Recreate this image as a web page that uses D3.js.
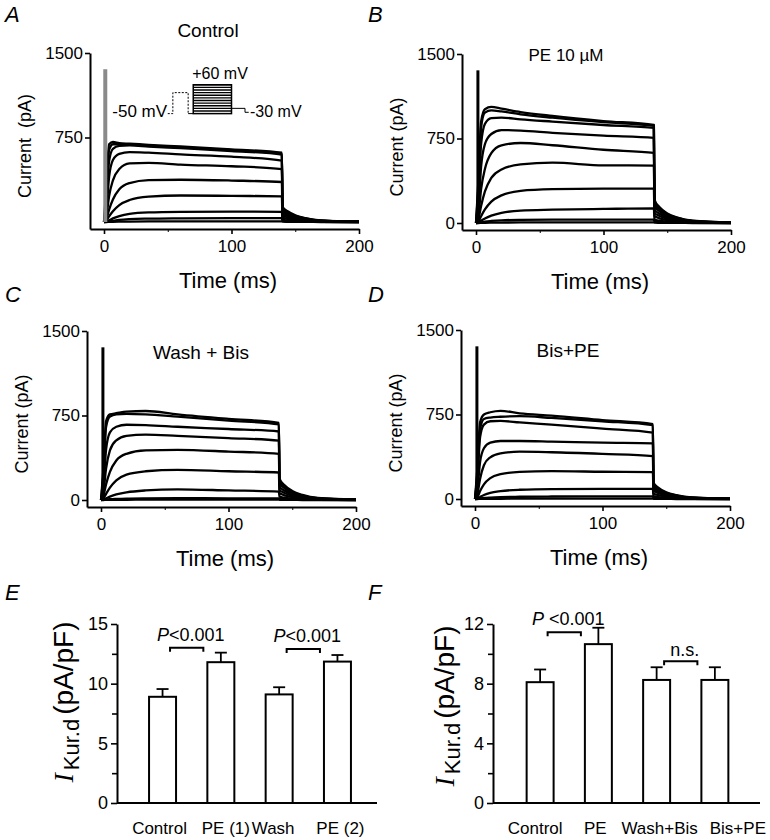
<!DOCTYPE html>
<html><head><meta charset="utf-8">
<script src="https://cdn.jsdelivr.net/npm/d3@7"></script>
<style>
body{margin:0;background:#fff}
text{font-family:"Liberation Sans",Arial,Helvetica,sans-serif;fill:#000}
</style>
</head><body>
<svg id="chart" width="770" height="840"></svg>
<script>
// ---------------- DATA ----------------
// shared sample times (ms) for current traces
const timesMs = [0, 2, 4, 7, 12, 20, 35, 60, 100, 139.5, 140, 144, 150, 158, 170, 200];

// Panel A: Control (pA)
const tracesControl = [
  [0, 350, 690, 710, 700, 695, 685, 670, 645, 615, 135, 95, 60, 35, 15, 3],
  [0, 280, 640, 690, 690, 688, 678, 662, 638, 605, 125, 88, 55, 32, 13, 3],
  [0, 200, 540, 650, 675, 680, 670, 655, 630, 598, 115, 80, 50, 28, 12, 2],
  [0, 120, 400, 550, 605, 620, 615, 600, 580, 545, 100, 70, 44, 25, 10, 2],
  [0, 60, 230, 370, 470, 520, 525, 510, 495, 470, 80, 56, 35, 20, 8, 1],
  [0, 30, 110, 200, 290, 345, 372, 375, 368, 355, 60, 42, 26, 15, 6, 1],
  [0, 15, 50, 95, 150, 195, 225, 235, 232, 228, 40, 28, 17, 10, 4, 0],
  [0, 5, 15, 32, 52, 72, 85, 90, 92, 90, 20, 14, 9, 5, 2, 0],
  [0, 2, 5, 10, 18, 25, 30, 33, 35, 35, 10, 7, 4, 2, 1, 0],
  [0, 0, 1, 2, 3, 4, 5, 5, 5, 5, 3, 2, 1, 1, 0, 0]
];
// Panel B: PE 10 µM
const tracesPE = [
  [0, 400, 900, 1010, 1030, 1015, 985, 950, 905, 870, 205, 140, 85, 48, 20, 4],
  [0, 350, 850, 980, 1000, 990, 965, 935, 895, 862, 190, 130, 80, 45, 18, 4],
  [0, 250, 700, 880, 930, 935, 920, 900, 870, 845, 175, 120, 72, 40, 16, 3],
  [0, 150, 500, 700, 790, 825, 820, 800, 775, 756, 150, 103, 62, 35, 14, 3],
  [0, 80, 300, 480, 620, 690, 710, 690, 650, 623, 120, 82, 50, 28, 11, 2],
  [0, 40, 150, 280, 400, 475, 520, 535, 512, 510, 90, 62, 38, 21, 8, 2],
  [0, 15, 60, 120, 190, 245, 285, 300, 305, 305, 60, 41, 25, 14, 6, 1],
  [0, 5, 20, 40, 65, 90, 110, 118, 125, 130, 30, 20, 12, 7, 3, 0],
  [0, 2, 6, 12, 18, 24, 28, 30, 30, 30, 12, 8, 5, 3, 1, 0],
  [0, 0, 1, 2, 3, 4, 5, 5, 5, 5, 3, 2, 1, 1, 0, 0]
];
// Panel C: Wash + Bis
const tracesWashBis = [
  [0, 300, 700, 760, 770, 785, 790, 760, 720, 685, 190, 130, 80, 45, 18, 4],
  [0, 250, 650, 740, 760, 765, 760, 740, 705, 672, 175, 120, 72, 40, 16, 3],
  [0, 150, 450, 600, 650, 668, 665, 650, 630, 608, 150, 103, 62, 35, 14, 3],
  [0, 80, 280, 440, 530, 570, 580, 570, 550, 527, 120, 82, 50, 28, 11, 2],
  [0, 40, 140, 250, 350, 410, 440, 445, 430, 410, 90, 62, 38, 21, 8, 2],
  [0, 15, 55, 110, 175, 225, 255, 268, 255, 244, 60, 41, 25, 14, 6, 1],
  [0, 5, 15, 30, 50, 68, 85, 95, 85, 74, 30, 20, 12, 7, 3, 0],
  [0, 2, 4, 7, 10, 13, 15, 16, 15, 15, 10, 7, 4, 2, 1, 0],
  [0, 0, 1, 1, 2, 2, 3, 3, 3, 3, 2, 1, 1, 0, 0, 0]
];
// Panel D: Bis + PE
const tracesBisPE = [
  [0, 300, 680, 750, 770, 783, 760, 740, 700, 664, 143, 98, 60, 34, 14, 3],
  [0, 250, 620, 710, 723, 730, 735, 720, 690, 655, 130, 90, 55, 31, 13, 3],
  [0, 200, 550, 660, 690, 693, 680, 660, 625, 589, 115, 80, 48, 27, 11, 2],
  [0, 100, 330, 450, 500, 515, 515, 510, 500, 494, 95, 65, 40, 22, 9, 2],
  [0, 50, 180, 300, 370, 405, 420, 415, 400, 381, 75, 52, 32, 18, 7, 1],
  [0, 20, 70, 130, 185, 220, 240, 247, 242, 238, 50, 34, 21, 12, 5, 1],
  [0, 6, 18, 35, 55, 70, 82, 88, 89, 89, 25, 17, 10, 6, 2, 0],
  [0, 2, 5, 9, 13, 17, 20, 22, 23, 24, 10, 7, 4, 2, 1, 0],
  [0, 0, 1, 1, 2, 2, 3, 3, 3, 3, 2, 1, 1, 0, 0, 0]
];
// capacitive transient (time ms, peak pA) per panel
const spikeTimeMs = [1, 1.5, 1.5, 1.5];
const spikePeakPA = [1355, 1355, 1355, 1355];

const traceTitles = ["Control", "PE 10 \u00B5M", "Wash + Bis", "Bis+PE"];
const panelLetters = ["A", "B", "C", "D", "E", "F"];
const yTicksA = [750, 1500];
const yTicksOther = [0, 750, 1500];
const xTicksMajor = [0, 100, 200];
const xTicksMinor = [50, 150];

// Voltage protocol inset (panel A), steps in mV
const protocolSteps = [-40, -30, -20, -10, 0, 10, 20, 30, 40, 50, 60];
const protocolLabels = ["-50 mV", "+60 mV", "-30 mV"];

// Panel E
const catsE = ["Control", "PE (1)", "Wash", "PE (2)"];
const meansE = [8.9, 11.8, 9.1, 11.85];
const errsE = [0.65, 0.8, 0.6, 0.55];
const yTicksE = [0, 5, 10, 15];
const yMinorE = [2.5, 7.5, 12.5];
const bracketsE = [["Control", "PE (1)", 13.0, "P<0.001"], ["Wash", "PE (2)", 12.9, "P<0.001"]];

// Panel F
const catsF = ["Control", "PE", "Wash+Bis", "Bis+PE"];
const meansF = [8.1, 10.65, 8.25, 8.25];
const errsF = [0.85, 1.1, 0.85, 0.85];
const yTicksF = [0, 4, 8, 12];
const yMinorF = [2, 6, 10];
const bracketsF = [["Control", "PE", 11.45, "P <0.001"], ["Wash+Bis", "Bis+PE", 9.5, "n.s."]];

// ---------------- DRAW ----------------
const svg = d3.select("#chart");

// panel letters
const letterPos = [[5, 22], [368, 22], [5, 302], [368, 302], [5, 600], [368, 600]];
panelLetters.forEach((L, i) => {
  svg.append("text").attr("x", letterPos[i][0]).attr("y", letterPos[i][1])
    .attr("font-size", 22).attr("font-style", "italic").text(L);
});

const traceSets = [tracesControl, tracesPE, tracesWashBis, tracesBisPE];
const traceLayout = [
  {x0: 104, y0: 222, title: [208, 37, 19], yTicks: yTicksA, spikeColor: "#8a8a8a", spikeW: 4},
  {x0: 476, y0: 223, title: [566, 61, 17], yTicks: yTicksOther, spikeColor: "#000", spikeW: 3},
  {x0: 101, y0: 500, title: [201, 359, 19], yTicks: yTicksOther, spikeColor: "#000", spikeW: 3},
  {x0: 475, y0: 499, title: [568, 357, 19], yTicks: yTicksOther, spikeColor: "#000", spikeW: 3}
];
const W = 255, H = 169, axOffX = 14, axOffY = 7;

const scalesA = {};
traceSets.forEach((traces, p) => {
  const L = traceLayout[p];
  const x = d3.scaleLinear().domain([0, 200]).range([L.x0, L.x0 + W]);
  const y = d3.scaleLinear().domain([0, 1500]).range([L.y0, L.y0 - H]);
  if (p === 0) { scalesA.x = x; scalesA.y = y; }
  const g = svg.append("g");

  // axes
  const yAx = y.copy().domain([y.invert(L.y0 + axOffY), 1500]).range([L.y0 + axOffY, L.y0 - H]);
  const ya = g.append("g").attr("transform", `translate(${L.x0 - axOffX},0)`)
    .call(d3.axisLeft(yAx).tickValues(L.yTicks).tickSize(5).tickSizeOuter(0).tickPadding(2).tickFormat(d3.format("d")));
  const xAx = x.copy().domain([x.invert(L.x0 - axOffX), 200]).range([L.x0 - axOffX, L.x0 + W]);
  const xa = g.append("g").attr("transform", `translate(0,${L.y0 + axOffY})`)
    .call(d3.axisBottom(xAx).tickValues(xTicksMajor).tickSize(5).tickSizeOuter(0).tickPadding(6).tickFormat(d3.format("d")));
  g.append("g").attr("transform", `translate(0,${L.y0 + axOffY})`)
    .call(d3.axisBottom(xAx).tickValues(xTicksMinor).tickSize(3).tickSizeOuter(0).tickFormat(""))
    .select(".domain").remove();
  [ya, xa].forEach(a => {
    a.selectAll("path.domain").attr("stroke-width", 2);
    a.selectAll(".tick line").attr("stroke-width", 1.6);
    a.selectAll("text").attr("font-size", 17).attr("font-family", "Liberation Sans, Arial, sans-serif").attr("fill", "#000");
  });
  g.selectAll(".tick line").attr("stroke", "#000");

  // traces
  const line = d3.line().x(d => x(d[0])).y(d => y(d[1])).curve(d3.curveMonotoneX);
  g.append("g").selectAll("path").data(traces).join("path")
    .attr("d", tr => line(timesMs.map((t, i) => [t, tr[i]])))
    .attr("fill", "none").attr("stroke", "#000").attr("stroke-width", 2.3).attr("stroke-linejoin", "round");

  // capacitive spike
  g.append("line")
    .attr("x1", x(spikeTimeMs[p])).attr("x2", x(spikeTimeMs[p]))
    .attr("y1", y(0)).attr("y2", y(spikePeakPA[p]))
    .attr("stroke", L.spikeColor).attr("stroke-width", L.spikeW);

  // labels
  g.append("text").attr("x", L.title[0]).attr("y", L.title[1]).attr("text-anchor", "middle")
    .attr("font-size", L.title[2]).text(traceTitles[p]);
  g.append("text").attr("transform", `translate(${L.x0 - 73},${L.y0 - 76}) rotate(-90)`)
    .attr("text-anchor", "middle").attr("font-size", 18).attr("xml:space", "preserve")
    .text(p === 0 ? "Current  (pA)" : "Current (pA)");
  g.append("text").attr("x", L.x0 + 124).attr("y", L.y0 + 66).attr("text-anchor", "middle")
    .attr("font-size", 22).text("Time (ms)");
});

// ---- voltage protocol inset in panel A ----
{
  const x = scalesA.x, y = scalesA.y;
  const v = d3.scaleLinear().domain([-50, 60]).range([y(962), y(1218)]);
  const gi = svg.append("g").attr("stroke", "#000").attr("fill", "none");
  const tx = [50, 54, 66, 70, 100, 110.6, 113.5];
  // holding + dashed prepulse
  gi.append("path").attr("stroke-dasharray", "2,1.5").attr("stroke-width", 1)
    .attr("d", d3.line()([[x(tx[0]), v(-50)], [x(tx[1]), v(-50)], [x(tx[1]), v(30)], [x(tx[2]), v(30)], [x(tx[2]), v(-50)]]));
  gi.append("path").attr("stroke-width", 1)
    .attr("d", d3.line()([[x(tx[2]), v(-50)], [x(tx[3]), v(-50)]]));
  // step box
  gi.append("rect").attr("x", x(tx[3])).attr("y", v(60)).attr("width", x(tx[4]) - x(tx[3]))
    .attr("height", v(-50) - v(60)).attr("stroke-width", 1.5);
  gi.selectAll("line.step").data(protocolSteps).join("line").attr("class", "step")
    .attr("x1", x(tx[3])).attr("x2", x(tx[4])).attr("y1", d => v(d)).attr("y2", d => v(d))
    .attr("stroke-width", 1.4);
  // tail to -30 then back to -50
  gi.append("path").attr("stroke-width", 1)
    .attr("d", d3.line()([[x(tx[4]), v(-30)], [x(tx[5]), v(-30)], [x(tx[5]), v(-45)], [x(tx[6]), v(-45)]]));
  svg.append("text").attr("x", x(49.5)).attr("y", y(935)).attr("text-anchor", "end").attr("font-size", 17).text(protocolLabels[0]);
  svg.append("text").attr("x", x(91)).attr("y", y(1271)).attr("text-anchor", "middle").attr("font-size", 16).text(protocolLabels[1]);
  svg.append("text").attr("x", x(114.5)).attr("y", y(935)).attr("text-anchor", "start").attr("font-size", 16).text(protocolLabels[2]);
}

// ---------------- BAR PANELS ----------------
function barPanel(cfg) {
  const {cats, means, errs, yMax, yTicks, yMinor, brackets, axisX, axisEnd, bandRange, labelCx} = cfg;
  const y = d3.scaleLinear().domain([0, yMax]).range([803, 624]);
  const x = d3.scaleBand().domain(cats).range(bandRange).paddingInner(0.537).paddingOuter(0.2685);
  const g = svg.append("g");
  // y axis
  const ya = g.append("g").attr("transform", `translate(${axisX},0)`)
    .call(d3.axisLeft(y).tickValues(yTicks).tickSize(6).tickSizeOuter(0).tickPadding(3).tickFormat(d3.format("d")));
  g.append("g").attr("transform", `translate(${axisX},0)`)
    .call(d3.axisLeft(y).tickValues(yMinor).tickSize(5).tickFormat("")).select(".domain").remove();
  ya.selectAll("path.domain").attr("stroke-width", 2);
  g.selectAll(".tick line").attr("stroke", "#000").attr("stroke-width", 1.6);
  ya.selectAll("text").attr("font-size", 18).attr("font-family", "Liberation Sans, Arial, sans-serif").attr("fill", "#000");
  // baseline
  g.append("line").attr("x1", axisX).attr("x2", axisEnd).attr("y1", y(0)).attr("y2", y(0))
    .attr("stroke", "#000").attr("stroke-width", 2);
  // error bars
  const cap = 12;
  cats.forEach((c, i) => {
    const cx = x(c) + x.bandwidth() / 2;
    g.append("line").attr("x1", cx).attr("x2", cx).attr("y1", y(means[i])).attr("y2", y(means[i] + errs[i]))
      .attr("stroke", "#000").attr("stroke-width", 1.8);
    g.append("line").attr("x1", cx - cap / 2).attr("x2", cx + cap / 2).attr("y1", y(means[i] + errs[i])).attr("y2", y(means[i] + errs[i]))
      .attr("stroke", "#000").attr("stroke-width", 1.8);
  });
  // bars
  g.selectAll("rect.bar").data(cats).join("rect").attr("class", "bar")
    .attr("x", c => x(c)).attr("width", x.bandwidth())
    .attr("y", (c, i) => y(means[i])).attr("height", (c, i) => y(0) - y(means[i]))
    .attr("fill", "#fff").attr("stroke", "#000").attr("stroke-width", 2);
  // category labels
  g.selectAll("text.cat").data(cats).join("text").attr("class", "cat")
    .attr("x", (c, i) => x(c) + x.bandwidth() / 2 + labelCx[i]).attr("y", 834)
    .attr("text-anchor", "middle").attr("font-size", 17).text(c => c);
  // brackets
  brackets.forEach(b => {
    const x1 = x(b[0]) + x.bandwidth() - 6, x2 = x(b[1]) - 4, yy = y(b[2]);
    g.append("path").attr("d", `M${x1},${yy + 4}V${yy}H${x2}V${yy + 4}`)
      .attr("fill", "none").attr("stroke", "#000").attr("stroke-width", 2);
    const t = g.append("text").attr("x", (x1 + x2) / 2 + 4).attr("y", yy - (b[3] === "n.s." ? 5 : 7))
      .attr("text-anchor", "middle").attr("font-size", 18);
    if (b[3].startsWith("P")) {
      t.append("tspan").attr("font-style", "italic").text("P");
      t.append("tspan").text(b[3].slice(1));
    } else t.text(b[3]);
  });
  // y label
  const lab = g.append("text").attr("transform", `translate(${cfg.ylabX},${cfg.ylabY}) rotate(-90)`)
    .attr("text-anchor", "middle");
  lab.append("tspan").attr("font-family", "Liberation Serif, Times New Roman, serif").attr("font-style", "italic").attr("font-size", 28).text("I");
  lab.append("tspan").attr("font-size", 22).attr("dy", 6).attr("dx", 3).text("Kur.d");
  lab.append("tspan").attr("font-size", 28).attr("dy", -6).attr("dx", 4).text("(pA/pF)");
}

barPanel({cats: catsE, means: meansE, errs: errsE, yMax: 15, yTicks: yTicksE, yMinor: yMinorE, brackets: bracketsE,
  axisX: 117, axisEnd: 377, bandRange: [133.4, 366.6], labelCx: [-3, 5, -6, 3], ylabX: 73, ylabY: 702});
barPanel({cats: catsF, means: meansF, errs: errsF, yMax: 12, yTicks: yTicksF, yMinor: yMinorF, brackets: bracketsF,
  axisX: 493, axisEnd: 760, bandRange: [511, 744], labelCx: [-5, -3, 3, 23], ylabX: 454, ylabY: 706});
</script>
</body></html>
